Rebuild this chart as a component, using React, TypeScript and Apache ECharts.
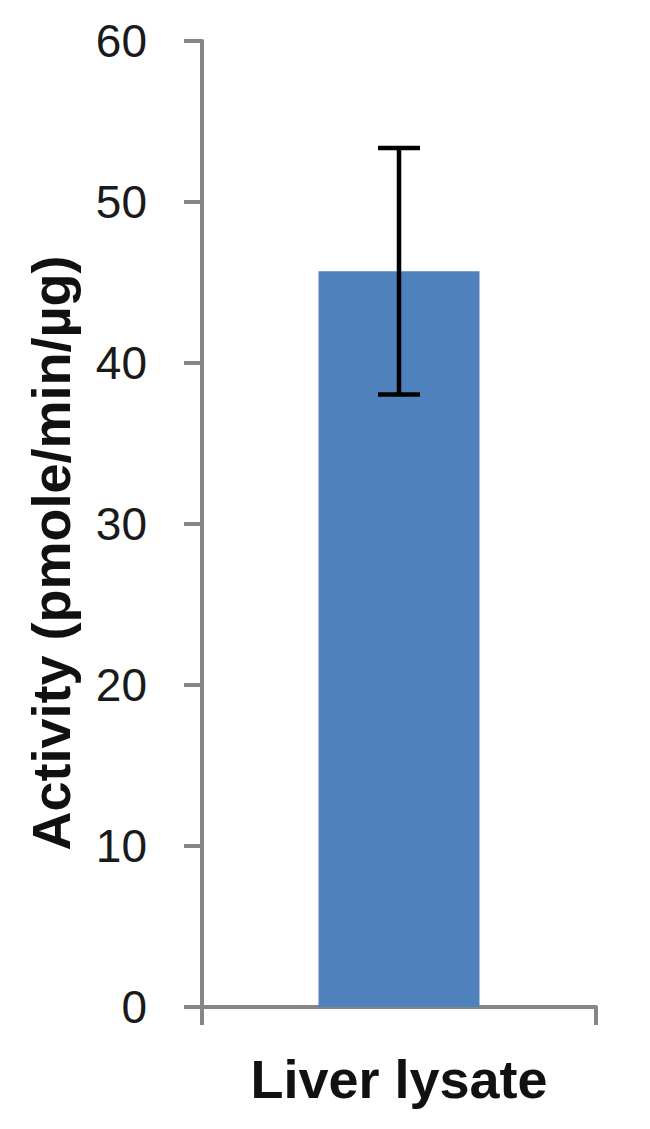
import { useEffect, useRef } from "react";
import * as echarts from "echarts";

// values
const categories = ["Liver lysate"];
const activity = [45.7];
const activityError = [7.65];
const yTicks = [0, 10, 20, 30, 40, 50, 60];

const FONT = "'Liberation Sans', Arial, Helvetica, sans-serif";
const AXIS_GREY = "#868686";

export default function App() {
    const chartRef = useRef<HTMLDivElement | null>(null);

    useEffect(() => {
        document.body.style.margin = "0";
        if (!chartRef.current) return;

        const chart = echarts.init(chartRef.current, undefined, { renderer: "svg" });

        const option: echarts.EChartsOption = {
            animation: false,
            backgroundColor: "#ffffff",
            grid: {
                left: 202,
                right: 54,
                top: 41,
                bottom: 122,
                containLabel: false,
            },
            xAxis: {
                type: "category",
                data: categories,
                boundaryGap: true,
                axisLine: { show: true, lineStyle: { color: AXIS_GREY, width: 4 } },
                axisTick: {
                    show: true,
                    length: 18,
                    alignWithLabel: false,
                    lineStyle: { color: AXIS_GREY, width: 4 },
                },
                axisLabel: {
                    margin: 45,
                    color: "#111111",
                    fontFamily: FONT,
                    fontWeight: "bold",
                    fontSize: 54,
                },
                splitLine: { show: false },
            },
            yAxis: {
                type: "value",
                min: yTicks[0],
                max: yTicks[yTicks.length - 1],
                interval: 10,
                name: "Activity (pmole/min/µg)",
                nameLocation: "middle",
                nameRotate: 90,
                nameGap: 124,
                nameTextStyle: {
                    color: "#111111",
                    fontFamily: FONT,
                    fontWeight: "bold",
                    fontSize: 54,
                    padding: [0, 58, 0, 0],
                },
                axisLine: { show: true, lineStyle: { color: AXIS_GREY, width: 4 } },
                axisTick: { show: true, length: 18, lineStyle: { color: AXIS_GREY, width: 4 } },
                axisLabel: {
                    margin: 55,
                    color: "#1a1a1a",
                    fontFamily: FONT,
                    fontSize: 46,
                },
                splitLine: { show: false },
            },
            series: [
                {
                    name: "Activity",
                    type: "bar",
                    data: activity,
                    barWidth: 161,
                    itemStyle: { color: "#4f81bd" },
                },
                {
                    name: "Error",
                    type: "custom",
                    data: activity.map((v, i) => [i, v - activityError[i], v + activityError[i]]),
                    z: 10,
                    renderItem: (params: any, api: any) => {
                        const x = api.value(0);
                        const low = api.coord([x, api.value(1)]);
                        const high = api.coord([x, api.value(2)]);
                        const half = 21;
                        const style = { stroke: "#000000", lineWidth: 4.5 };
                        return {
                            type: "group",
                            children: [
                                { type: "line", shape: { x1: high[0], y1: high[1], x2: low[0], y2: low[1] }, style },
                                { type: "line", shape: { x1: high[0] - half, y1: high[1], x2: high[0] + half, y2: high[1] }, style },
                                { type: "line", shape: { x1: low[0] - half, y1: low[1], x2: low[0] + half, y2: low[1] }, style },
                            ],
                        };
                    },
                },
            ],
        };

        chart.setOption(option);

        return () => {
            chart.dispose();
        };
    }, []);

    return <div ref={chartRef} style={{ width: "650px", height: "1129px" }} />;
}
